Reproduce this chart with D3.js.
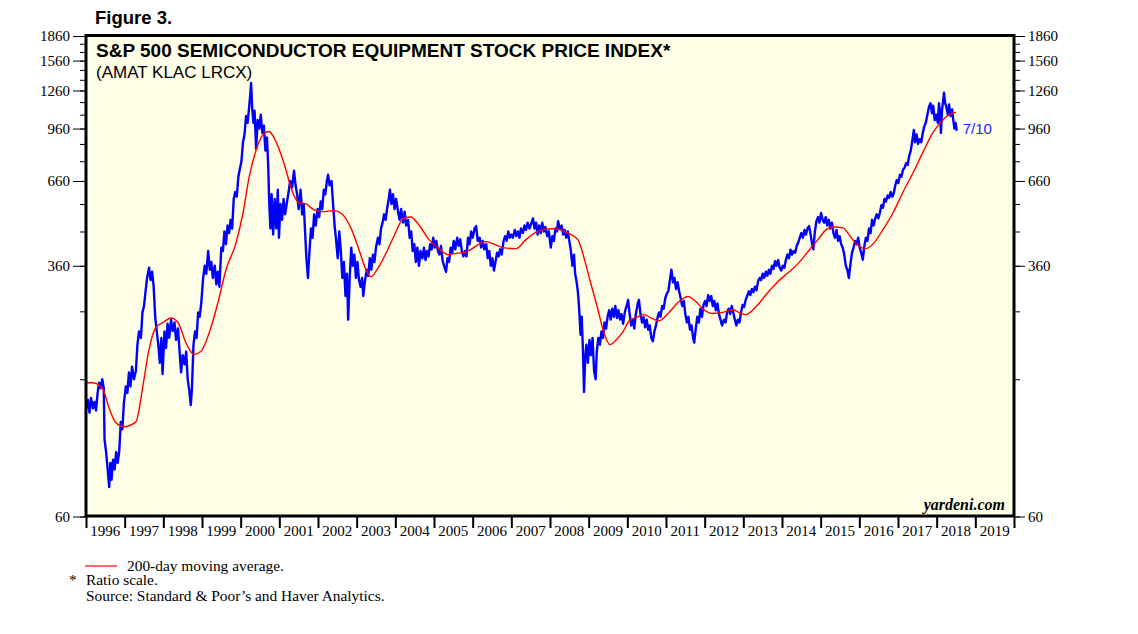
<!DOCTYPE html>
<html>
<head>
<meta charset="utf-8">
<script src="https://cdn.jsdelivr.net/npm/d3@7"></script>
<style>
  html, body { margin: 0; padding: 0; background: #fff; }
  svg { display: block; }
  .serif { font-family: "Liberation Serif", "Times New Roman", serif; }
  .sans { font-family: "Liberation Sans", Arial, sans-serif; }
</style>
</head>
<body>
<svg id="mainSvg"></svg>
<script>
// year tick marks (start of each year) and labels
const yearTicks = d3.range(1996, 2021);
const yearLabels = d3.range(1996, 2020);

// ratio scale ticks
const majorTicks = [60, 360, 660, 960, 1260, 1560, 1860];
const minorTicks = [60, 160, 260, 360, 460, 560, 660, 760, 860, 960, 1060, 1160, 1260, 1360, 1460, 1560, 1660, 1760, 1860];

// S&P 500 semiconductor equipment index, [decimal year, value]
const price = [
  [1996.00,129],[1996.05,138],[1996.09,126],[1996.13,140],[1996.18,130],[1996.22,136],[1996.26,128],[1996.30,145],
  [1996.34,156],[1996.38,150],[1996.42,160],[1996.46,150],[1996.48,104],[1996.52,95],[1996.56,84],[1996.60,74],
  [1996.63,88],[1996.66,78],[1996.70,90],[1996.74,84],[1996.78,95],[1996.82,88],[1996.86,96],[1996.90,118],
  [1996.94,112],[1996.98,135],[1997.03,152],[1997.07,145],[1997.11,168],[1997.15,152],[1997.19,175],[1997.24,160],
  [1997.29,170],[1997.33,205],[1997.37,225],[1997.42,215],[1997.46,258],[1997.50,270],[1997.54,300],[1997.58,330],
  [1997.63,355],[1997.67,325],[1997.71,345],[1997.75,310],[1997.79,250],[1997.83,225],[1997.87,205],[1997.91,180],
  [1997.95,215],[1997.98,166],[1998.03,225],[1998.07,200],[1998.11,238],[1998.15,215],[1998.20,245],[1998.24,226],
  [1998.29,240],[1998.33,212],[1998.38,230],[1998.42,195],[1998.46,168],[1998.50,190],[1998.55,178],[1998.59,195],
  [1998.63,160],[1998.67,148],[1998.71,133],[1998.74,150],[1998.78,205],[1998.82,225],[1998.86,215],[1998.90,258],
  [1998.94,250],[1998.98,275],[1999.03,330],[1999.07,360],[1999.11,340],[1999.16,400],[1999.20,350],[1999.24,370],
  [1999.28,330],[1999.33,360],[1999.37,315],[1999.41,345],[1999.45,310],[1999.50,410],[1999.54,400],[1999.58,460],
  [1999.62,420],[1999.66,480],[1999.70,455],[1999.74,500],[1999.78,470],[1999.82,580],[1999.86,610],[1999.90,590],
  [1999.94,680],[1999.98,720],[2000.02,760],[2000.06,870],[2000.10,920],[2000.14,1050],[2000.18,1000],[2000.22,1120],
  [2000.25,1230],[2000.27,1330],[2000.30,1100],[2000.33,1000],[2000.36,1090],[2000.40,830],[2000.44,1020],[2000.48,960],
  [2000.52,1060],[2000.56,930],[2000.60,980],[2000.64,820],[2000.68,900],[2000.71,750],[2000.74,560],[2000.77,470],
  [2000.80,600],[2000.84,450],[2000.88,580],[2000.92,470],[2000.96,620],[2000.99,440],[2001.03,560],[2001.07,500],
  [2001.11,580],[2001.15,520],[2001.19,560],[2001.24,610],[2001.28,660],[2001.33,630],[2001.38,710],[2001.42,640],
  [2001.46,600],[2001.50,540],[2001.55,620],[2001.59,520],[2001.63,560],[2001.67,450],[2001.70,380],[2001.74,330],
  [2001.78,400],[2001.82,470],[2001.86,440],[2001.90,520],[2001.94,480],[2001.99,540],[2002.03,510],[2002.07,570],
  [2002.11,540],[2002.15,620],[2002.19,600],[2002.23,660],[2002.26,690],[2002.30,640],[2002.35,660],[2002.39,560],
  [2002.43,480],[2002.47,430],[2002.51,380],[2002.55,460],[2002.59,400],[2002.63,330],[2002.67,370],[2002.71,290],
  [2002.75,340],[2002.78,245],[2002.82,330],[2002.86,410],[2002.90,360],[2002.94,390],[2002.98,330],[2003.02,370],
  [2003.06,325],[2003.10,310],[2003.14,330],[2003.17,290],[2003.21,320],[2003.26,350],[2003.30,335],[2003.34,380],
  [2003.38,350],[2003.42,390],[2003.46,370],[2003.50,410],[2003.55,440],[2003.59,420],[2003.63,470],[2003.67,490],
  [2003.71,520],[2003.75,500],[2003.79,545],[2003.83,580],[2003.86,620],[2003.90,560],[2003.94,600],[2003.98,540],
  [2004.02,580],[2004.07,530],[2004.11,500],[2004.15,540],[2004.20,490],[2004.24,530],[2004.28,480],[2004.33,500],
  [2004.37,440],[2004.41,460],[2004.45,400],[2004.49,420],[2004.53,370],[2004.57,410],[2004.61,360],[2004.65,400],
  [2004.70,380],[2004.74,410],[2004.78,375],[2004.82,400],[2004.86,385],[2004.90,420],[2004.94,405],[2004.98,440],
  [2005.02,410],[2005.06,430],[2005.10,400],[2005.14,390],[2005.18,415],[2005.22,375],[2005.26,360],[2005.31,345],
  [2005.35,380],[2005.39,370],[2005.43,410],[2005.47,395],[2005.51,430],[2005.55,405],[2005.60,440],[2005.64,415],
  [2005.68,435],[2005.72,400],[2005.76,385],[2005.80,400],[2005.84,385],[2005.88,440],[2005.92,420],[2005.96,460],
  [2006.00,440],[2006.05,470],[2006.09,478],[2006.13,430],[2006.18,440],[2006.22,410],[2006.26,430],[2006.30,405],
  [2006.35,420],[2006.39,380],[2006.43,400],[2006.47,360],[2006.51,380],[2006.55,348],[2006.59,370],[2006.63,395],
  [2006.67,385],[2006.71,405],[2006.75,390],[2006.80,430],[2006.84,445],[2006.88,430],[2006.92,460],[2006.96,440],
  [2007.00,450],[2007.04,440],[2007.09,465],[2007.13,445],[2007.17,460],[2007.21,440],[2007.25,470],[2007.30,455],
  [2007.34,480],[2007.38,465],[2007.42,490],[2007.47,470],[2007.51,485],[2007.56,505],[2007.60,470],[2007.64,490],
  [2007.68,450],[2007.72,480],[2007.76,455],[2007.80,490],[2007.84,460],[2007.88,475],[2007.93,445],[2007.97,460],
  [2008.02,410],[2008.06,445],[2008.10,430],[2008.14,470],[2008.18,460],[2008.21,495],[2008.25,470],[2008.30,480],
  [2008.34,450],[2008.38,465],[2008.42,440],[2008.46,460],[2008.50,430],[2008.54,400],[2008.58,360],[2008.62,390],
  [2008.65,340],[2008.69,320],[2008.72,300],[2008.75,270],[2008.79,220],[2008.82,250],[2008.85,200],[2008.88,146],
  [2008.91,185],[2008.94,205],[2008.98,180],[2009.02,212],[2009.06,190],[2009.10,215],[2009.14,170],[2009.18,160],
  [2009.21,195],[2009.25,215],[2009.29,205],[2009.33,225],[2009.37,215],[2009.41,240],[2009.45,230],[2009.49,250],
  [2009.53,262],[2009.57,245],[2009.61,265],[2009.65,250],[2009.69,270],[2009.73,248],[2009.77,262],[2009.81,245],
  [2009.85,255],[2009.89,238],[2009.94,260],[2009.98,270],[2010.02,282],[2010.06,255],[2010.10,235],[2010.14,245],
  [2010.18,230],[2010.22,255],[2010.27,275],[2010.30,282],[2010.34,255],[2010.38,240],[2010.42,250],[2010.46,232],
  [2010.50,245],[2010.54,228],[2010.58,235],[2010.62,215],[2010.66,210],[2010.70,225],[2010.74,235],[2010.78,248],
  [2010.82,258],[2010.86,250],[2010.90,270],[2010.94,265],[2010.98,285],[2011.02,295],[2011.06,300],[2011.10,325],
  [2011.14,350],[2011.18,320],[2011.22,330],[2011.26,305],[2011.30,320],[2011.34,300],[2011.38,285],[2011.42,270],
  [2011.46,280],[2011.50,255],[2011.54,240],[2011.58,250],[2011.62,228],[2011.66,235],[2011.70,215],[2011.73,208],
  [2011.77,230],[2011.81,250],[2011.85,240],[2011.89,265],[2011.93,250],[2011.97,272],[2012.01,280],[2012.05,270],
  [2012.09,292],[2012.13,280],[2012.17,290],[2012.21,270],[2012.25,280],[2012.29,262],[2012.33,275],[2012.37,255],
  [2012.41,245],[2012.45,235],[2012.50,245],[2012.54,240],[2012.58,258],[2012.62,265],[2012.66,255],[2012.70,270],
  [2012.74,258],[2012.78,245],[2012.82,235],[2012.86,245],[2012.90,240],[2012.94,258],[2012.98,272],[2013.02,268],
  [2013.06,282],[2013.10,290],[2013.14,300],[2013.18,292],[2013.22,305],[2013.26,298],[2013.30,310],[2013.34,302],
  [2013.38,322],[2013.42,330],[2013.46,325],[2013.50,340],[2013.54,330],[2013.58,345],[2013.62,335],[2013.66,350],
  [2013.70,340],[2013.74,360],[2013.78,352],[2013.82,372],[2013.86,360],[2013.90,375],[2013.94,355],[2013.98,348],
  [2014.02,360],[2014.06,355],[2014.10,375],[2014.14,390],[2014.18,380],[2014.22,404],[2014.26,390],[2014.30,400],
  [2014.34,395],[2014.38,415],[2014.42,425],[2014.46,440],[2014.50,455],[2014.54,440],[2014.58,465],[2014.62,450],
  [2014.66,470],[2014.70,478],[2014.74,450],[2014.78,420],[2014.81,405],[2014.85,460],[2014.89,495],[2014.93,510],
  [2014.97,490],[2015.01,525],[2015.05,500],[2015.09,490],[2015.13,510],[2015.17,480],[2015.21,500],[2015.25,470],
  [2015.29,490],[2015.33,455],[2015.37,440],[2015.41,465],[2015.45,430],[2015.49,445],[2015.53,420],[2015.57,410],
  [2015.61,390],[2015.65,360],[2015.69,350],[2015.73,330],[2015.77,365],[2015.81,395],[2015.85,410],[2015.89,430],
  [2015.93,420],[2015.97,440],[2016.01,410],[2016.05,395],[2016.09,376],[2016.13,415],[2016.17,440],[2016.21,430],
  [2016.25,470],[2016.29,455],[2016.33,500],[2016.37,480],[2016.41,505],[2016.45,520],[2016.49,505],[2016.53,525],
  [2016.57,555],[2016.61,545],[2016.65,580],[2016.69,570],[2016.73,595],[2016.77,585],[2016.81,610],[2016.85,590],
  [2016.89,605],[2016.93,640],[2016.97,665],[2017.01,650],[2017.05,690],[2017.09,680],[2017.13,715],[2017.17,725],
  [2017.21,750],[2017.25,740],[2017.29,790],[2017.33,820],[2017.37,880],[2017.41,950],[2017.44,870],[2017.48,920],
  [2017.52,860],[2017.56,890],[2017.60,870],[2017.64,930],[2017.68,975],[2017.72,1000],[2017.76,1060],[2017.80,1120],
  [2017.84,1150],[2017.88,1070],[2017.91,1130],[2017.95,1020],[2017.99,1060],[2018.03,1000],[2018.06,1150],[2018.09,1060],
  [2018.11,930],[2018.14,1100],[2018.17,1180],[2018.19,1240],[2018.22,1150],[2018.25,1120],[2018.29,1060],[2018.32,1140],
  [2018.36,1050],[2018.40,1100],[2018.43,1020],[2018.46,960],[2018.49,1000],[2018.52,945]
];

// 200-day moving average, [decimal year, value]
const movingAvg = [
  [1996.00,156],[1996.18,156],[1996.44,149],[1996.59,131],[1996.78,117],[1996.98,114],[1997.29,118],[1997.47,152],
  [1997.63,198],[1997.81,232],[1997.99,240],[1998.20,248],[1998.38,240],[1998.59,207],[1998.79,191],[1998.97,195],
  [1999.18,222],[1999.41,276],[1999.62,350],[1999.88,424],[2000.06,525],[2000.22,680],[2000.40,824],[2000.58,920],
  [2000.73,940],[2000.86,900],[2001.04,800],[2001.17,715],[2001.30,630],[2001.51,565],[2001.69,560],[2001.90,537],
  [2002.15,530],[2002.39,534],[2002.59,525],[2002.85,472],[2003.06,404],[2003.24,350],[2003.37,333],[2003.55,354],
  [2003.76,394],[2003.96,444],[2004.22,506],[2004.40,510],[2004.61,482],[2004.87,434],[2005.10,410],[2005.36,390],
  [2005.62,394],[2005.83,398],[2006.34,428],[2006.78,410],[2007.12,407],[2007.38,434],[2007.71,462],[2008.08,469],
  [2008.46,455],[2008.72,434],[2008.88,381],[2009.06,316],[2009.24,263],[2009.40,222],[2009.55,205],[2009.71,212],
  [2009.89,225],[2010.04,242],[2010.27,250],[2010.43,254],[2010.61,248],[2010.82,243],[2011.08,258],[2011.34,279],
  [2011.57,289],[2011.77,279],[2011.98,263],[2012.21,256],[2012.47,258],[2012.73,263],[2012.94,256],[2013.07,254],
  [2013.33,269],[2013.64,298],[2013.90,322],[2014.15,342],[2014.41,365],[2014.67,398],[2014.93,434],[2015.14,466],
  [2015.32,475],[2015.58,472],[2015.73,450],[2015.96,417],[2016.17,407],[2016.38,424],[2016.61,466],[2016.87,525],
  [2017.13,610],[2017.39,700],[2017.64,808],[2017.90,930],[2018.11,1005],[2018.32,1060],[2018.50,1078]
];

const lastLabel = '7/10';
const footNotes = [
  { mark: '*', text: 'Ratio scale.' },
  { mark: '', text: 'Source: Standard & Poor\u2019s and Haver Analytics.' }
];

const W = 1138, H = 634;
const box = { l: 86, r: 1014, t: 35.5, b: 516 };

const svg = d3.select('#mainSvg').attr('width', W).attr('height', H);

const x = d3.scaleLinear().domain([1996, 2020]).range([box.l, box.r]);
const y = d3.scaleLog().domain([60, 1860]).range([516.5, 36]);

// plot background
svg.append('rect')
    .attr('x', box.l).attr('y', box.t)
    .attr('width', box.r - box.l).attr('height', box.b - box.t)
    .attr('fill', '#fffee6');

svg.append('clipPath').attr('id', 'clip')
  .append('rect')
    .attr('x', box.l).attr('y', box.t)
    .attr('width', box.r - box.l).attr('height', box.b - box.t);

const plot = svg.append('g').attr('clip-path', 'url(#clip)');

const line = d3.line().x(d => x(d[0])).y(d => y(d[1]));

plot.append('path')
    .datum(price)
    .attr('d', line)
    .attr('fill', 'none')
    .attr('stroke', '#0000ff')
    .attr('stroke-width', 2.4)
    .attr('stroke-linejoin', 'round');

plot.append('path')
    .datum(movingAvg)
    .attr('d', line.curve(d3.curveMonotoneX))
    .attr('fill', 'none')
    .attr('stroke', '#ff0000')
    .attr('stroke-width', 1.4);

// frame
svg.append('rect')
    .attr('x', box.l).attr('y', box.t)
    .attr('width', box.r - box.l).attr('height', box.b - box.t)
    .attr('fill', 'none')
    .attr('stroke', '#000')
    .attr('stroke-width', 3);

// y axes, minor then major
function yAxes(axisFn, xPos, major, minor) {
    svg.append('g')
        .attr('transform', `translate(${xPos},0)`)
        .call(axisFn(y).tickValues(minorTicks).tickSize(minor).tickFormat(''))
        .call(g => g.select('.domain').remove());
    svg.append('g')
        .attr('class', 'serif')
        .attr('transform', `translate(${xPos},0)`)
        .call(axisFn(y).tickValues(majorTicks).tickSize(major).tickPadding(3).tickFormat(d3.format('d')))
        .call(g => g.select('.domain').remove())
        .call(g => g.selectAll('text').attr('font-size', 15).attr('fill', '#000').attr('font-family', null));
}
yAxes(d3.axisLeft, 85, 12, 5);
yAxes(d3.axisRight, 1015, 10, 5);

// x axis, year boundaries
svg.append('g')
    .attr('transform', `translate(0,${box.b + 1})`)
    .call(d3.axisBottom(x).tickValues(yearTicks).tickSize(11).tickFormat(''))
    .call(g => g.select('.domain').remove())
    .call(g => g.selectAll('line').attr('stroke-width', 2));

svg.append('g').attr('class', 'serif')
  .selectAll('text')
  .data(yearLabels)
  .join('text')
    .attr('x', d => x(d + 0.5))
    .attr('y', 536)
    .attr('text-anchor', 'middle')
    .attr('font-size', 15)
    .text(d => d);

// titles
svg.append('text').attr('class', 'sans')
    .attr('x', 95).attr('y', 24)
    .attr('font-size', 18.5).attr('font-weight', 'bold')
    .text('Figure 3.');

svg.append('text').attr('class', 'sans')
    .attr('x', 96).attr('y', 57)
    .attr('font-size', 19).attr('font-weight', 'bold')
    .text('S&P 500 SEMICONDUCTOR EQUIPMENT STOCK PRICE INDEX*');

svg.append('text').attr('class', 'sans')
    .attr('x', 96).attr('y', 77.5)
    .attr('font-size', 17)
    .text('(AMAT KLAC LRCX)');

svg.append('text').attr('class', 'serif')
    .attr('x', 1005).attr('y', 510)
    .attr('text-anchor', 'end')
    .attr('font-size', 16).attr('font-weight', 'bold').attr('font-style', 'italic')
    .text('yardeni.com');

// end-of-series date label
const last = price[price.length - 1];
svg.append('text').attr('class', 'sans')
    .attr('x', x(last[0]) + 6).attr('y', y(last[1]) + 3)
    .attr('font-size', 15)
    .attr('fill', '#2222ff')
    .text(lastLabel);

// legend and notes
svg.append('line')
    .attr('x1', 85).attr('x2', 117)
    .attr('y1', 566).attr('y2', 566)
    .attr('stroke', '#ff0000').attr('stroke-width', 1.2);

svg.append('text').attr('class', 'serif')
    .attr('x', 127).attr('y', 570.5)
    .attr('font-size', 15.4)
    .text('200-day moving average.');

const notes = svg.append('g').attr('class', 'serif').attr('font-size', 15.4);
notes.selectAll('text.mark')
  .data(footNotes)
  .join('text')
    .attr('class', 'mark')
    .attr('x', 69).attr('y', (d, i) => 585 + i * 16)
    .text(d => d.mark);
notes.selectAll('text.note')
  .data(footNotes)
  .join('text')
    .attr('class', 'note')
    .attr('x', 86).attr('y', (d, i) => 585 + i * 16)
    .text(d => d.text);
</script>
</body>
</html>
